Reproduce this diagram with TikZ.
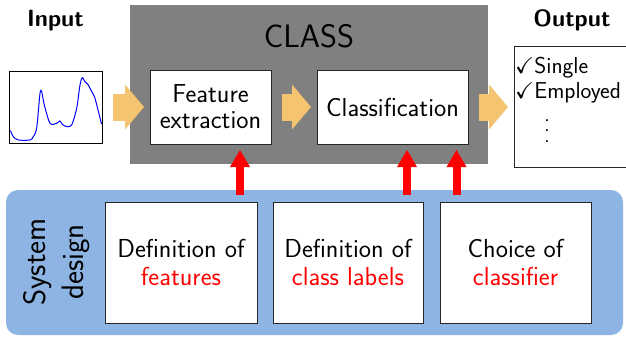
\documentclass[tikz,border=0pt]{standalone}
\usepackage{fontspec}
\usepackage{amssymb}
\usetikzlibrary{arrows.meta,calc}
\definecolor{grayclass}{HTML}{808080}
\definecolor{bluesys}{HTML}{8DB4E2}
\definecolor{orangearr}{HTML}{F4C470}
\tikzset{
  whitebox/.style={draw=black!85, line width=1pt, fill=white, inner sep=0pt, outer sep=0pt, align=center,
    font=\fontsize{26}{28}\selectfont\sffamily},
  fatarrow/.style={draw=orangearr, line width=27pt, -{Triangle[length=19pt,width=45pt,line width=0pt]},
    shorten <=11pt, shorten >=6pt},
  redarrow/.style={draw=red, line width=8pt, -{Triangle[length=17pt,width=20pt,line width=0pt]},
    shorten <=7pt, shorten >=6pt},
  headlabel/.style={anchor=base, inner sep=0pt, font=\fontsize{23.5}{28}\selectfont\sffamily\bfseries},
  outtext/.style={anchor=base west, inner sep=0pt, font=\fontsize{23}{24}\selectfont\sffamily},
}
\begin{document}
\begin{tikzpicture}[x=1pt, y=-1pt]
\clip (0,0) rectangle (626,337);
\fill[white] (0,0) rectangle (626,337);
% CLASS box
\node[fill=grayclass, inner sep=0pt, outer sep=0pt, minimum width=358pt, minimum height=159pt] (classbox) at (309,84.5) {};
\node[inner sep=0pt, font=\fontsize{32.5}{36}\selectfont\sffamily] (classtitle) at (309,36.5) {CLASS};
\node[whitebox, font=\fontsize{26}{26}\selectfont\sffamily, minimum width=121pt, minimum height=74pt] (fe) at (210.5,107) {Feature\\extraction};
\node[whitebox, minimum width=151pt, minimum height=74pt] (cls) at (392.5,107) {Classification};
% input
\node[headlabel] (inlabel) at (55.5,27) {Input};
\node[draw=black, line width=0.9pt, inner sep=0pt, outer sep=0pt, minimum width=93pt, minimum height=72pt] (plot) at (55.5,107) {};
\draw[blue, line width=1pt] plot[smooth, tension=0.45] coordinates {
 (10.5,130.5) (13.3,136.7) (18.3,140) (30,140) (33.3,136.7) (36.7,128) (40,93.3) (41.7,91.7)
 (44.3,105) (50,123.3) (56.7,123.3) (60,121) (62.3,124.3) (66.7,126.7) (71.7,125) (76.7,108.3)
 (80,85) (82.3,77.7) (85,81.7) (88.3,85) (91.7,91.7) (95,98.3) (101.5,124)};
% output
\node[headlabel] (outlabel) at (572,27) {Output};
\node[draw=black!85, line width=1pt, fill=white, inner sep=0pt, outer sep=0pt, minimum width=126pt, minimum height=120pt] (out) at (577,107) {};
\node[outtext] (o1) at (515,74) {$\checkmark$Single};
\node[outtext] (o2) at (515,98) {$\checkmark$Employed};
\node[rotate=90, inner sep=0pt, font=\fontsize{22}{24}\selectfont\sffamily] (o3) at (547,131) {.\hspace{4.4pt}.\hspace{4.4pt}.};
% orange arrows
\draw[fatarrow] (plot) -- (fe);
\draw[fatarrow] (fe) -- (cls);
\draw[fatarrow] (cls) -- (out);
% system design
\node[fill=bluesys, rounded corners=12pt, inner sep=0pt, minimum width=617pt, minimum height=145pt] (sys) at (314.5,262.5) {};
\node[rotate=90, align=center, inner sep=0pt, font=\fontsize{31}{38}\selectfont\sffamily] (sd) at (56.5,262) {System\\design};
\node[whitebox, minimum width=152pt, minimum height=121pt] (d1) at (181,262.5) {Definition of\\\textcolor{red}{features}};
\node[whitebox, minimum width=150pt, minimum height=121pt] (d2) at (348,262.5) {Definition of\\\textcolor{red}{class labels}};
\node[whitebox, minimum width=151pt, minimum height=121pt] (d3) at (515.5,262.5) {Choice of\\\textcolor{red}{classifier}};
% red arrows
\coordinate (rx1) at (240,0);
\coordinate (rx2) at (407,0);
\coordinate (rx3) at (456.5,0);
\draw[redarrow] (d1.north -| rx1) -- (fe.south -| rx1);
\draw[redarrow] (d2.north -| rx2) -- (cls.south -| rx2);
\draw[redarrow] (d3.north -| rx3) -- (cls.south -| rx3);
\end{tikzpicture}
\end{document}
